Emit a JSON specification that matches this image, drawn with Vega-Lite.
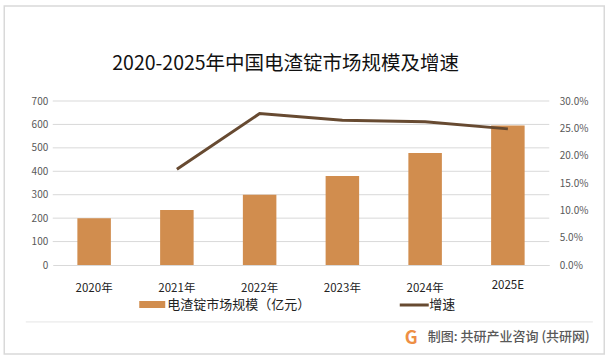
{
"$schema":"https://vega.github.io/schema/vega-lite/v6.json",
"padding":{"left":3.25,"top":5,"right":0,"bottom":0},
"config":{"font":"Noto Sans CJK SC","view":{"stroke":"#d9d9d9","strokeWidth":1.5}},
"datasets":{
"table":[
{"year":"2020年","size":200,"rate":null},
{"year":"2021年","size":235,"rate":0.175},
{"year":"2022年","size":300,"rate":0.277},
{"year":"2023年","size":380,"rate":0.265},
{"year":"2024年","size":478,"rate":0.262},
{"year":"2025E","size":595,"rate":0.249}],
"grid":[{"tick":100},{"tick":200},{"tick":300},{"tick":400},{"tick":500},{"tick":600},{"tick":700}]
},
"vconcat":[{
"width":600,"height":348,
"view":{"stroke":"#d9d9d9","strokeWidth":1.5},
"title":{"text":"2020-2025年中国电渣锭市场规模及增速","anchor":"start","frame":"group","dx":108,"offset":-77,"baseline":"middle","fontSize":19.5,"fontWeight":"normal","color":"#111111","font":"Noto Sans CJK SC"},
"layer":[
{"data":{"name":"grid"},"mark":{"type":"rule","color":"#d9d9d9","strokeWidth":1,"x2Offset":41.4},
"encoding":{
"x":{"datum":"2020年","bandPosition":0,"type":"nominal"},
"x2":{"datum":"2025E"},
"y":{"field":"tick","type":"quantitative","scale":{"domain":[0,700],"range":[259,95]},
"axis":{"orient":"left","offset":-48.5,"values":[0,100,200,300,400,500,600,700],"grid":false,"domain":false,"ticks":false,"title":null,"labelPadding":5,"labelFontSize":10,"labelColor":"#595959","labelFont":"Noto Sans CJK SC"}}}},
{"data":{"values":[{"sep":-243}]},"mark":{"type":"rule","color":"#e6e6e6","strokeWidth":1,"xOffset":-27,"x2Offset":85},
"encoding":{
"x":{"datum":"2020年","bandPosition":0,"type":"nominal"},
"x2":{"datum":"2025E"},
"y":{"field":"sep","type":"quantitative","scale":{"domain":[0,700],"range":[259,95]},"axis":null}}},
{"data":{"name":"table"},"mark":{"type":"bar","width":{"band":0.405}},
"encoding":{
"x":{"field":"year","type":"nominal","sort":null,"scale":{"type":"band","domain":["2020年","2021年","2022年","2023年","2024年","2025E"],"range":[48.5,545],"paddingInner":0,"paddingOuter":0},
"axis":{"orient":"bottom","offset":-89,"labelAngle":0,"labelAlign":"center","ticks":false,"domainColor":"#d9d9d9","domainWidth":1,"labelPadding":23,"labelBaseline":{"condition":{"test":"datum.value=='2025E'","value":"alphabetic"},"value":"middle"},"labelFontSize":11.5,"labelColor":"#222222","labelFont":"Noto Sans CJK SC",
"title":"制图: 共研产业咨询 (共研网)","titleX":423,"titleY":71,"titleAnchor":"start","titleAlign":"left","titleBaseline":"middle","titleFontSize":13,"titleFontWeight":500,"titleColor":"#595959","titleFont":"Noto Sans CJK SC"}},
"y":{"field":"size","type":"quantitative","scale":{"domain":[0,700],"range":[259,95]},"axis":null},
"fill":{"datum":"电渣锭市场规模（亿元）","type":"nominal","scale":{"range":["#d18d4e"]},
"legend":{"orient":"none","legendX":134,"legendY":284.5,"title":null,"symbolType":"M-1,-0.27H1V0.27H-1Z","symbolSize":676,"symbolOpacity":1,"labelFontSize":13,"labelColor":"#222222","labelFont":"Noto Sans CJK SC","labelOffset":1}}}},
{"data":{"name":"table"},"mark":{"type":"line","strokeWidth":3,"strokeCap":"butt"},
"encoding":{
"x":{"field":"year","type":"nominal","sort":null},
"y":{"field":"rate","type":"quantitative","scale":{"domain":[0,0.3],"range":[259,95]},
"axis":{"orient":"right","offset":-55,"values":[0,0.05,0.1,0.15,0.2,0.25,0.3],"format":".1%","grid":false,"domain":false,"ticks":false,"labelPadding":10,"labelFontSize":10,"labelColor":"#595959","labelFont":"Noto Sans CJK SC",
"title":"G","titleAngle":0,"titleX":-145,"titleY":332,"titleAnchor":"start","titleAlign":"left","titleBaseline":"middle","titleFontSize":18,"titleFontWeight":"bold","titleColor":"#ee8f45","titleFont":"Noto Sans CJK SC"}},
"stroke":{"datum":"增速","type":"nominal","scale":{"range":["#674a31"]},
"legend":{"orient":"none","legendX":394,"legendY":283,"title":null,"symbolType":"stroke","symbolSize":841,"symbolStrokeWidth":3,"labelFontSize":13,"labelColor":"#222222","labelFont":"Noto Sans CJK SC","labelOffset":-1}}}}
],
"resolve":{"scale":{"y":"independent","fill":"independent","stroke":"independent"},"axis":{"y":"independent"},"legend":{"fill":"independent","stroke":"independent"}}
}]
}
